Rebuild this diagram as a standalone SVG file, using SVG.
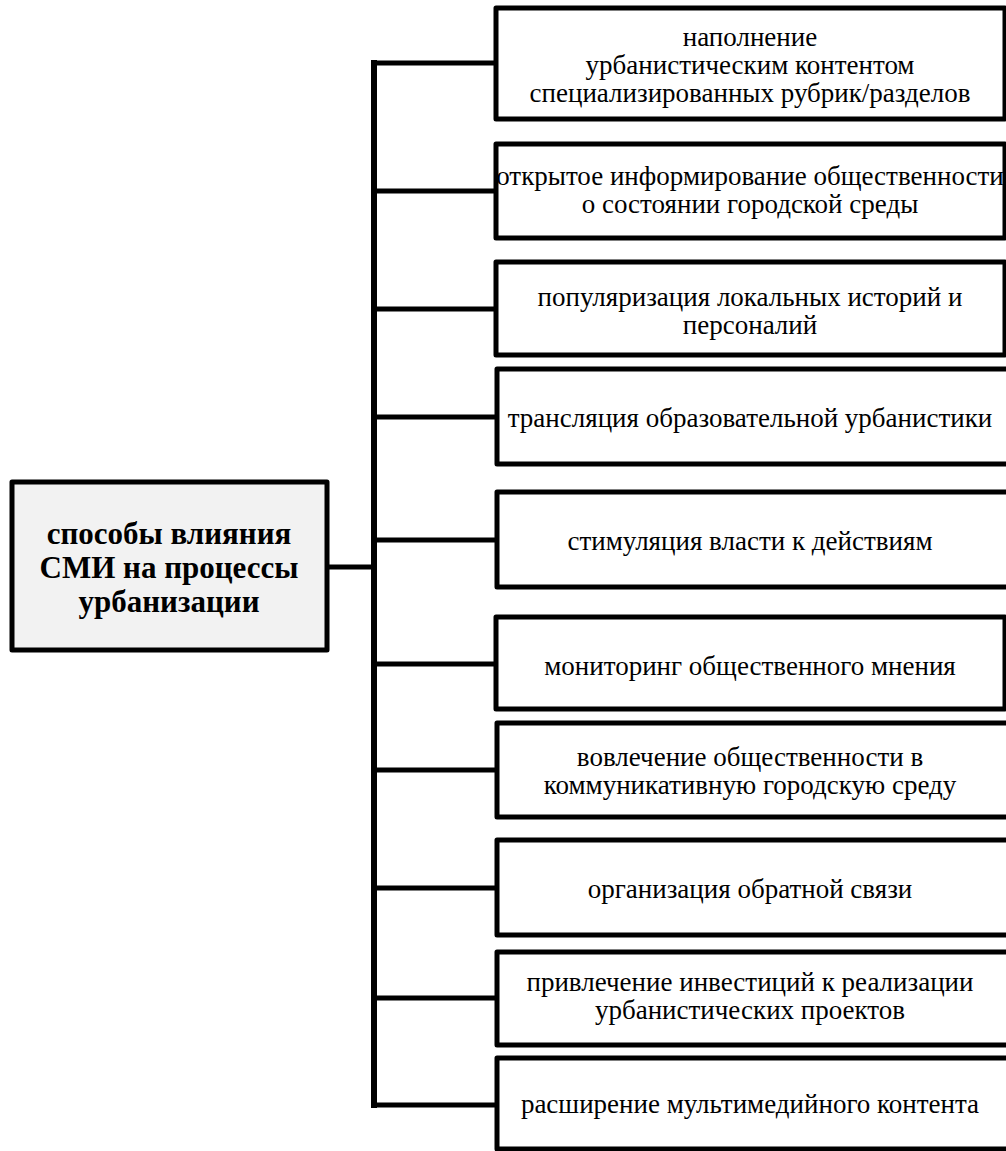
<svg xmlns="http://www.w3.org/2000/svg" width="1006" height="1151" viewBox="0 0 1006 1151">
<style>
.box{fill:#ffffff;stroke:#000;stroke-width:5;stroke-linejoin:round}
.main{fill:#f2f2f2;stroke:#000;stroke-width:5;stroke-linejoin:round}
.t{font-family:"Liberation Serif","Times New Roman",serif;font-size:27px;fill:#000;text-anchor:middle}
.tb{font-family:"Liberation Serif","Times New Roman",serif;font-size:31px;font-weight:bold;fill:#000;text-anchor:middle}
.c{stroke:#000;stroke-width:5;fill:none;stroke-linecap:square}
</style>
<rect width="1006" height="1151" fill="#fff"/>
<g id="connectors">
<line class="c" x1="374" y1="63" x2="374" y2="1105" style="stroke-width:6"/>
<line class="c" x1="327" y1="567" x2="374" y2="567"/>
<line class="c" x1="374" y1="63" x2="496" y2="63"/>
<line class="c" x1="374" y1="191" x2="496" y2="191"/>
<line class="c" x1="374" y1="309" x2="496" y2="309"/>
<line class="c" x1="374" y1="417" x2="497" y2="417"/>
<line class="c" x1="374" y1="540" x2="497" y2="540"/>
<line class="c" x1="374" y1="664" x2="496" y2="664"/>
<line class="c" x1="374" y1="770" x2="497" y2="770"/>
<line class="c" x1="374" y1="888" x2="497" y2="888"/>
<line class="c" x1="374" y1="998" x2="497" y2="998"/>
<line class="c" x1="374" y1="1105" x2="497" y2="1105"/>
</g>
<g id="main">
<rect class="main" x="12" y="482" width="315" height="168"/>
<text class="tb" x="169" y="544">способы влияния</text>
<text class="tb" x="169" y="578">СМИ на процессы</text>
<text class="tb" x="169" y="612">урбанизации</text>
</g>
<g id="n1">
<rect class="box" x="496" y="8" width="509" height="111"/>
<text class="t" x="750" y="46">наполнение</text>
<text class="t" x="750" y="74">урбанистическим контентом</text>
<text class="t" x="750" y="102">специализированных рубрик/разделов</text>
</g>
<g id="n2">
<rect class="box" x="496" y="144" width="509" height="94"/>
<text class="t" x="750" y="185">открытое информирование общественности</text>
<text class="t" x="750" y="213">о состоянии городской среды</text>
</g>
<g id="n3">
<rect class="box" x="496" y="262" width="509" height="93"/>
<text class="t" x="750" y="306">популяризация локальных историй и</text>
<text class="t" x="750" y="334">персоналий</text>
</g>
<g id="n4">
<rect class="box" x="497" y="369" width="515" height="95"/>
<text class="t" x="750" y="427">трансляция образовательной урбанистики</text>
</g>
<g id="n5">
<rect class="box" x="497" y="492" width="515" height="95"/>
<text class="t" x="750" y="550">стимуляция власти к действиям</text>
</g>
<g id="n6">
<rect class="box" x="496" y="617" width="509" height="92"/>
<text class="t" x="750" y="675">мониторинг общественного мнения</text>
</g>
<g id="n7">
<rect class="box" x="497" y="723" width="515" height="94"/>
<text class="t" x="750" y="766">вовлечение общественности в</text>
<text class="t" x="750" y="794">коммуникативную городскую среду</text>
</g>
<g id="n8">
<rect class="box" x="497" y="840" width="515" height="95"/>
<text class="t" x="750" y="898">организация обратной связи</text>
</g>
<g id="n9">
<rect class="box" x="497" y="952" width="515" height="93"/>
<text class="t" x="750" y="991">привлечение инвестиций к реализации</text>
<text class="t" x="750" y="1019">урбанистических проектов</text>
</g>
<g id="n10">
<rect class="box" x="497" y="1058" width="515" height="91"/>
<text class="t" x="750" y="1113">расширение мультимедийного контента</text>
</g>
</svg>
